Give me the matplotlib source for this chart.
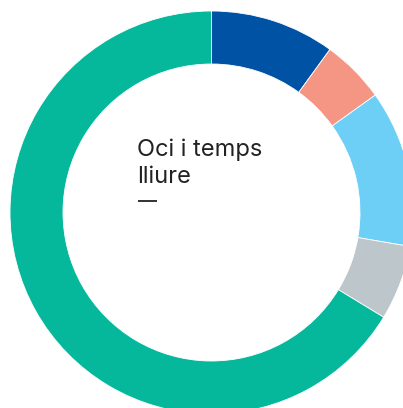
import matplotlib
matplotlib.use("Agg")
import matplotlib.pyplot as plt

# Segment shares, clockwise from 12 o'clock
categories = ["A", "B", "C", "D", "Oci i temps lliure"]
values = [10.0, 5.1, 12.6, 6.0, 66.3]
colors = ["#0052a5", "#f59685", "#6dcff6", "#bdc6cb", "#05b89c"]
title_lines = ["Oci i temps", "lliure"]

W, H = 403, 408
fig = plt.figure(figsize=(W / 100, H / 100), dpi=100)
ax = fig.add_axes([0, 0, 1, 1])

cx, cy = 211.5, H - 212.5
ax.pie(values, colors=colors, startangle=90, counterclock=False,
       center=(cx, cy), radius=201.5,
       wedgeprops=dict(width=53, edgecolor="white", linewidth=0.6))
ax.set_xlim(0, W)
ax.set_ylim(0, H)
ax.set_aspect("equal")
ax.axis("off")

font = dict(fontsize=17, family="Inter", color="#222222",
            ha="left", va="baseline")
ax.text(137, H - 156, title_lines[0], **font)
ax.text(137, H - 183, title_lines[1], **font)
# short rule under the label
ax.plot([138, 157], [H - 201, H - 201], color="#222222", lw=1.3,
        solid_capstyle="butt")

fig.savefig("out.png", dpi=100)
